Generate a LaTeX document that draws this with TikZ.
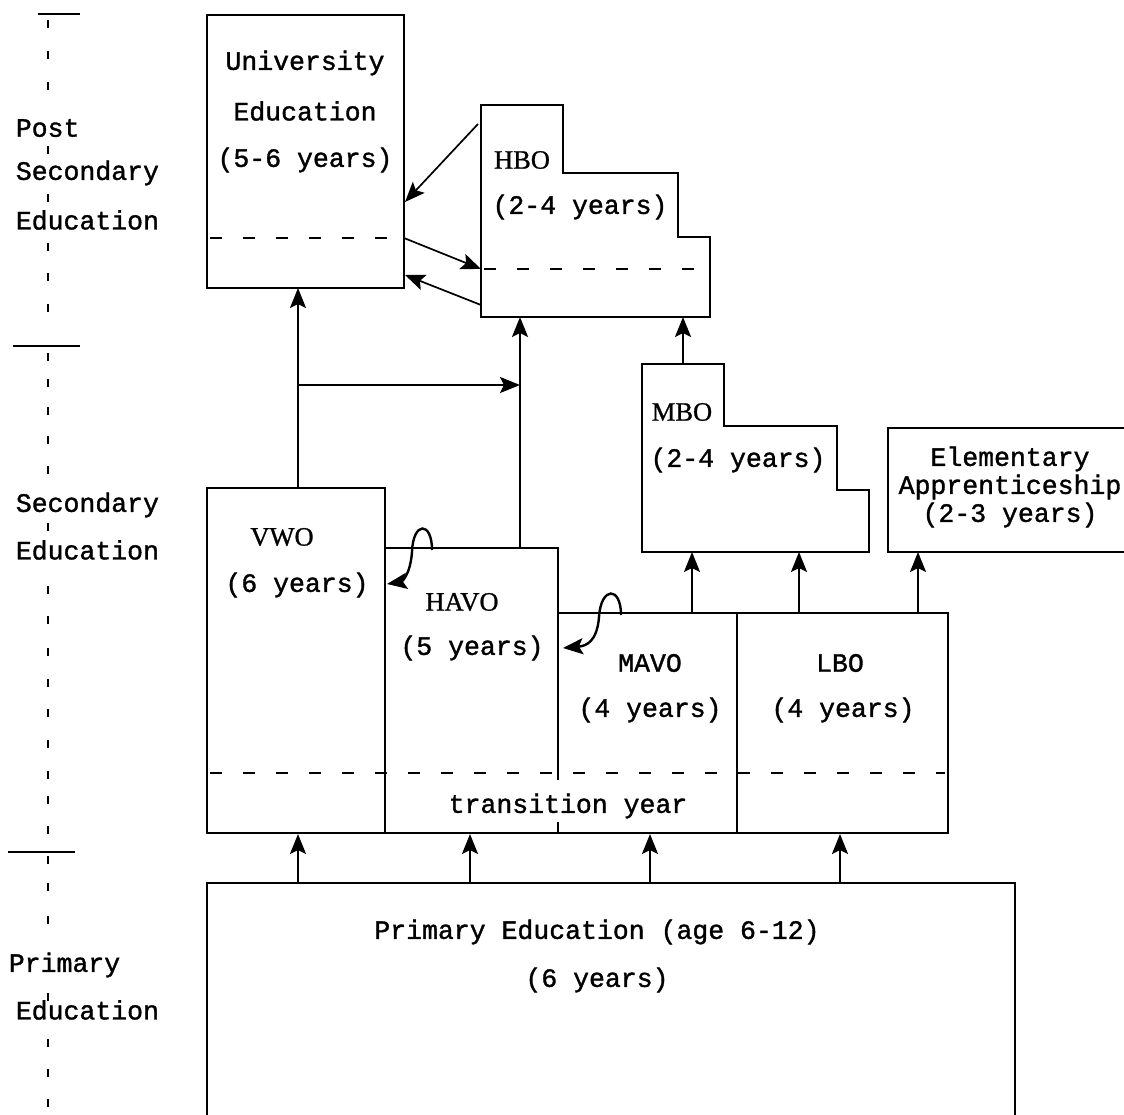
\documentclass[tikz,border=0pt]{standalone}
\usepackage{fontspec}
\setmainfont{Liberation Mono}[FakeBold=1.3]
\newfontfamily\acro{Liberation Serif}[FakeBold=0.9]
\usetikzlibrary{arrows.meta}

\tikzset{
  lbl/.style={inner sep=0pt},
  yearline/.style={dash pattern=on 12pt off 21pt},
  tip/.style={-{Stealth[length=20pt,width=16pt,inset=4pt]}},
  up/.style={tip,line width=2.4pt},
}

\begin{document}
\begin{tikzpicture}[line width=1.7pt,x=1pt,y=-1pt,font=\fontsize{26.5}{28}\selectfont]
  \useasboundingbox (0,0) rectangle (1124,1115);
  % left scale
  \draw (38,14) -- (80,14);
  \draw (13,346) -- (80,346);
  \draw (8,852) -- (75,852);
  \foreach \t in {24,55,86,150,198,247,277,308,357,383,411,440,470,527,590,620,652,683,713,744,775,800,830,860,887,920,997,1043,1073,1103}
    \draw[line width=2.6pt] (48,\t-4) -- (48,\t+4);
  \node[lbl,anchor=west] (post1) at (15,128) {Post};
  \node[lbl,anchor=west] (post2) at (15,173) {Secondary};
  \node[lbl,anchor=west] (post3) at (15,220) {Education};
  \node[lbl,anchor=west] (sec1) at (15,505) {Secondary};
  \node[lbl,anchor=west] (sec2) at (15,550) {Education};
  \node[lbl,anchor=west] (pri1) at (8,965) {Primary};
  \node[lbl,anchor=west] (pri2) at (15,1010) {Education};

  % post secondary
  \draw (207,15) rectangle (404,288);
  \draw[yearline] (210,238) -- (400,238);
  \node[lbl] (uni1) at (305,63) {University};
  \node[lbl] (uni2) at (305,111) {Education};
  \node[lbl] (uni3) at (305,160) {(5-6 years)};
  \draw (481,105) -- (563,105) -- (563,173) -- (678,173) -- (678,237) -- (710,237) -- (710,317) -- (481,317) -- cycle;
  \draw[yearline] (484,269) -- (700,269);
  \node[lbl] (hbo1) at (522,160) {\acro HBO};
  \node[lbl] (hbo2) at (580,207) {(2-4 years)};

  % secondary
  \draw (642,364) -- (724,364) -- (724,426) -- (837,426) -- (837,490) -- (869,490) -- (869,552) -- (642,552) -- cycle;
  \node[lbl] (mbo1) at (682,412) {\acro MBO};
  \node[lbl] (mbo2) at (738,460) {(2-4 years)};
  \draw (1130,428) -- (888,428) -- (888,552) -- (1130,552);
  \node[lbl,align=center] (elem) at (1010,487) {Elementary\\Apprenticeship\\(2-3 years)};

  \draw (385,833) -- (207,833) -- (207,488) -- (385,488) -- (385,833);
  \draw (385,548) -- (558,548) -- (558,780);
  \draw (558,822) -- (558,833);
  \draw (558,613) -- (948,613) -- (948,833) -- (385,833);
  \draw (737,613) -- (737,833);
  \draw[yearline] (210,773) -- (945,773);
  \node[lbl] (vwo1) at (282,537) {\acro VWO};
  \node[lbl] (vwo2) at (297,585) {(6 years)};
  \node[lbl] (havo1) at (462,602) {\acro HAVO};
  \node[lbl] (havo2) at (472,648) {(5 years)};
  \node[lbl] (mavo1) at (650,663) {MAVO};
  \node[lbl] (mavo2) at (650,710) {(4 years)};
  \node[lbl] (lbo1) at (840,663) {LBO};
  \node[lbl] (lbo2) at (843,710) {(4 years)};
  \node[lbl] (trans) at (568,806) {transition year};

  % primary
  \draw (207,1130) -- (207,883) -- (1015,883) -- (1015,1130);
  \node[lbl] (pri3) at (597,932) {Primary Education (age 6-12)};
  \node[lbl] (pri4) at (597,980) {(6 years)};

  % connectors
  \coordinate (hbo-w1) at (478,124);
  \coordinate (uni-e1) at (405,202);
  \coordinate (uni-e2) at (404,238);
  \coordinate (hbo-w2) at (481,269);
  \coordinate (hbo-w3) at (481,305);
  \coordinate (uni-e3) at (405,275);
  \draw[tip] (hbo-w1) -- (uni-e1);
  \draw[tip] (uni-e2) -- (hbo-w2);
  \draw[tip] (hbo-w3) -- (uni-e3);

  \coordinate (vwo-n) at (298,488);
  \coordinate (uni-s) at (298,288);
  \coordinate (turn) at (298,385);
  \coordinate (link) at (520,385);
  \coordinate (havo-n) at (520,548);
  \coordinate (hbo-s1) at (520,317);
  \coordinate (mbo-n) at (683,364);
  \coordinate (hbo-s2) at (683,317);
  \draw[up] (vwo-n) -- (uni-s);
  \draw[up] (turn) -- (link);
  \draw[up] (havo-n) -- (hbo-s1);
  \draw[up] (mbo-n) -- (hbo-s2);

  \foreach \x in {692,799,918}
    \draw[up] (\x,613) -- (\x,552);
  \foreach \x in {298,470,650,840}
    \draw[up] (\x,883) -- (\x,834);

  % hop arrows
  \coordinate (hop1) at (432,550);
  \coordinate (vwo-e) at (387,584);
  \coordinate (hop2) at (621,615);
  \coordinate (havo-e) at (563,648);
  \draw[up] (hop1) .. controls (432,521) and (413,521) .. (412,552)
    .. controls (410,578) and (400,582) .. (vwo-e);
  \draw[up] (hop2) .. controls (621,586) and (601,586) .. (599,617)
    .. controls (597,642) and (586,646) .. (havo-e);
\end{tikzpicture}
\end{document}
